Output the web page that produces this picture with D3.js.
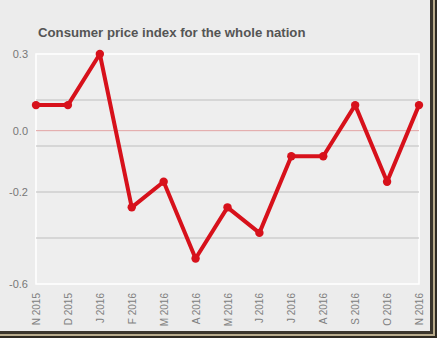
<!DOCTYPE html>
<html><head><meta charset="utf-8">
<script src="https://cdn.jsdelivr.net/npm/d3@7"></script>
<style>
html,body{margin:0;padding:0;background:#fff;}
svg{display:block;}
</style></head>
<body>
<script>
const categories = ["N 2015","D 2015","J 2016","F 2016","M 2016","A 2016","M 2016","J 2016","J 2016","A 2016","S 2016","O 2016","N 2016"];
const values = [0.1,0.1,0.3,-0.3,-0.2,-0.5,-0.3,-0.4,-0.1,-0.1,0.1,-0.2,0.1];
const gridValues = [0.12,-0.06,-0.24,-0.42];
const tickValues = [0.3,0.0,-0.24,-0.6];
const tickLabels = ["0.3","0.0","-0.2","-0.6"];
const chartTitle = "Consumer price index for the whole nation";

(function(){
const W = 439, H = 340;
const svg = d3.select("body").append("svg").attr("width", W).attr("height", H);

// frame / shadow
svg.append("rect").attr("x",0).attr("y",0).attr("width",437).attr("height",338).attr("fill","#2e2a22");
svg.append("rect").attr("x",0).attr("y",0).attr("width",435).attr("height",336).attr("fill","#b8ab8c");
svg.append("rect").attr("x",0).attr("y",0).attr("width",433).attr("height",334).attr("fill","#3a352c");
svg.append("rect").attr("x",0).attr("y",0).attr("width",430).attr("height",331).attr("fill","#ececec");

const pl = 36, pr = 419, pt = 54, pb = 284;
const x = d3.scalePoint().domain(d3.range(categories.length)).range([pl, pr]);
const y = d3.scaleLinear().domain([-0.6, 0.3]).range([pb, pt]);

// plot border
svg.append("rect").attr("x",pl).attr("y",pt).attr("width",pr-pl).attr("height",pb-pt)
  .attr("fill","#eeeeee").attr("stroke","#ffffff").attr("stroke-width",1.5);

svg.append("g").selectAll("line").data(gridValues).join("line")
  .attr("x1",pl).attr("x2",pr)
  .attr("y1",d=>y(d)).attr("y2",d=>y(d))
  .attr("stroke","#bdbdbd").attr("stroke-width",1.2);

svg.append("line").attr("x1",pl).attr("x2",pr).attr("y1",y(0)).attr("y2",y(0))
  .attr("stroke","#e2a3a3").attr("stroke-width",1);

// y labels
svg.append("g").selectAll("text").data(tickValues).join("text")
  .attr("x",28).attr("y",d=>y(d)).attr("dy","0.35em")
  .attr("text-anchor","end")
  .attr("font-family","Liberation Sans, Arial, sans-serif").attr("font-size",11)
  .attr("fill","#777").text((d,i)=>tickLabels[i]);

// x labels
svg.append("g").selectAll("text").data(categories).join("text")
  .attr("transform",(d,i)=>`translate(${x(i)+4},293) rotate(-90)`)
  .attr("text-anchor","end")
  .attr("font-family","Liberation Sans, Arial, sans-serif").attr("font-size",10)
  .attr("fill","#808080").text(d=>d);

// title
svg.append("text").attr("x",38).attr("y",37)
  .attr("font-family","Liberation Sans, Arial, sans-serif").attr("font-size",13.2).attr("font-weight","bold")
  .attr("fill","#555").text(chartTitle);

// line
const line = d3.line().x((d,i)=>x(i)).y(d=>y(d));
svg.append("path").datum(values).attr("d",line)
  .attr("fill","none").attr("stroke","#d7111b").attr("stroke-width",4).attr("stroke-linejoin","round");
svg.append("g").selectAll("circle").data(values).join("circle")
  .attr("cx",(d,i)=>x(i)).attr("cy",d=>y(d)).attr("r",4.2).attr("fill","#d7111b");
})();
</script>
</body></html>
